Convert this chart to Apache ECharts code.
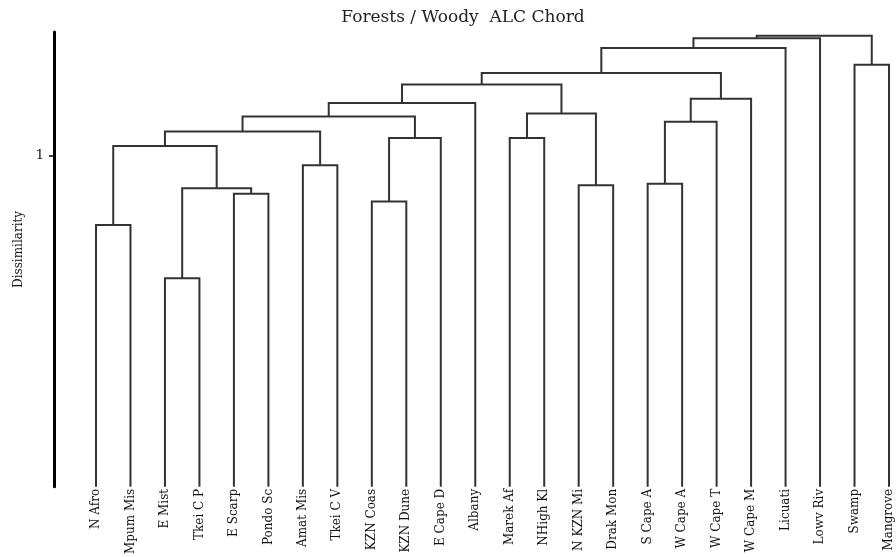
<!DOCTYPE html>
<html>
<head>
<meta charset="utf-8">
<script src="https://cdn.jsdelivr.net/npm/echarts@6/dist/echarts.min.js"></script>
<style>
  html, body { margin: 0; padding: 0; background: #fff; }
  #chart { width: 896px; height: 557px; }
</style>
</head>
<body>
<div id="chart"></div>
<script>
// leaves, left to right
const leafNames = ['N Afro', 'Mpum Mis', 'E Mist', 'Tkei C P', 'E Scarp', 'Pondo Sc',
  'Amat Mis', 'Tkei C V', 'KZN Coas', 'KZN Dune', 'E Cape D', 'Albany',
  'Marek Af', 'NHigh Kl', 'N KZN Mi', 'Drak Mon', 'S Cape A', 'W Cape A',
  'W Cape T', 'W Cape M', 'Licuati', 'Lowv Riv', 'Swamp', 'Mangrove']

// merges: node 24 is the first merge, 25 the second, ...
const mergeLeft = [2, 0, 8, 4, 24, 14, 16, 6, 25, 26, 12, 32, 30, 35, 34, 37, 36, 39, 41, 22, 42, 44, 45]
const mergeRight = [3, 1, 9, 5, 27, 15, 17, 7, 28, 10, 13, 31, 18, 33, 29, 11, 19, 38, 40, 23, 20, 21, 43]
const mergeHeight = [0.629, 0.790, 0.861, 0.884, 0.901, 0.910, 0.914, 0.970, 1.028, 1.052, 1.052,
  1.072, 1.101, 1.117, 1.126, 1.158, 1.171, 1.214, 1.248, 1.273, 1.324, 1.353, 1.361]

const yTicks = [1]

const nodeX = leafNames.map((n, i) => i)
const nodeH = leafNames.map(() => 0)
const brackets = []
mergeLeft.forEach((l, k) => {
  const r = mergeRight[k]
  const h = mergeHeight[k]
  brackets.push([nodeX[l], nodeX[r], nodeH[l], nodeH[r], h])
  nodeX.push((nodeX[l] + nodeX[r]) / 2)
  nodeH.push(h)
})

const chart = echarts.init(document.getElementById('chart'))
chart.setOption({
  animation: false,
  title: {
    text: 'Forests / Woody  ALC Chord',
    left: 458,
    top: 4,
    textAlign: 'center',
    textStyle: { fontFamily: 'DejaVu Serif', fontSize: 17, fontWeight: 'normal', color: '#222' }
  },
  grid: { left: 96, right: 7, top: 32, bottom: 65 },
  xAxis: {
    type: 'value',
    min: 0,
    max: leafNames.length - 1,
    interval: 1,
    axisLine: { show: false },
    axisTick: { show: false },
    splitLine: { show: false },
    axisLabel: {
      rotate: 90,
      margin: 2,
      fontFamily: 'DejaVu Serif',
      fontSize: 12,
      color: '#111',
      formatter: v => leafNames[v] || ''
    }
  },
  yAxis: {
    type: 'value',
    min: 0,
    max: 1.372,
    offset: 42,
    name: 'Dissimilarity',
    nameLocation: 'middle',
    nameGap: 28,
    nameTextStyle: { fontFamily: 'DejaVu Serif', fontSize: 12, color: '#111', padding: [0, 0, 0, 20] },
    axisLine: { show: true, onZero: false, lineStyle: { color: '#000', width: 3 } },
    axisTick: { show: true, customValues: yTicks, length: 5, lineStyle: { color: '#000', width: 1.5 } },
    axisLabel: { customValues: yTicks, margin: 10, fontFamily: 'DejaVu Serif', fontSize: 13, color: '#111' },
    splitLine: { show: false }
  },
  series: [{
    type: 'custom',
    data: brackets,
    encode: { x: [0, 1], y: [2, 3, 4] },
    renderItem: (params, api) => {
      const a = api.coord([api.value(0), api.value(2)])
      const b = api.coord([api.value(0), api.value(4)])
      const c = api.coord([api.value(1), api.value(4)])
      const d = api.coord([api.value(1), api.value(3)])
      return {
        type: 'polyline',
        shape: { points: [a, b, c, d] },
        style: { stroke: '#333', lineWidth: 2, fill: 'none' }
      }
    }
  }]
})
</script>
</body>
</html>
